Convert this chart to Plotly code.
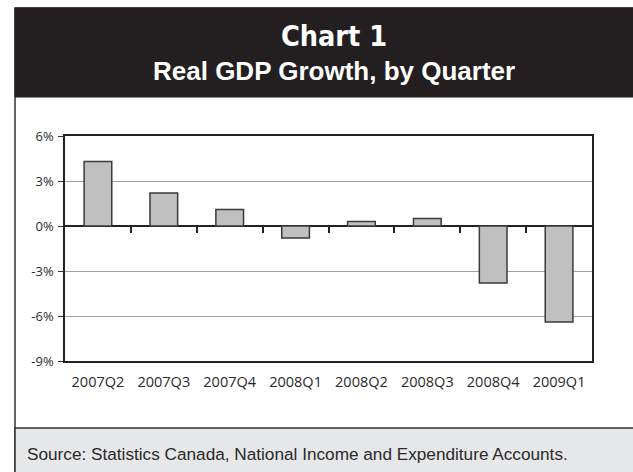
import plotly.graph_objects as go

# Quarterly real GDP growth (annualized, %)
quarters = ["2007Q2", "2007Q3", "2007Q4", "2008Q1", "2008Q2", "2008Q3", "2008Q4", "2009Q1"]
growth = [4.3, 2.2, 1.1, -0.8, 0.3, 0.5, -3.8, -6.4]

y_ticks = [-9, -6, -3, 0, 3, 6]
y_tick_labels = ["-9%", "-6%", "-3%", "0%", "3%", "6%"]

W, H = 633, 472
L, R, T, B = 65, 592, 136, 361  # plot area in pixels
FRAME_LEFT, FRAME_TOP = 15, 8
BAND_BOTTOM, SOURCE_TOP = 97, 428
TITLE_CX = 334


def px(x):
    return (x - L) / (R - L)


def py(y):
    return (B - y) / (B - T)


TEXT = "#2a2a2a"

fig = go.Figure()
fig.add_trace(go.Bar(
    x=quarters, y=growth,
    marker=dict(color="#c0c0c0", line=dict(color="#3a3a3a", width=1.5)),
    width=0.42, hoverinfo="x+y",
))
# carrier for the category-boundary tick marks on the zero line
fig.add_trace(go.Scatter(
    x=[0, len(quarters) - 1], y=[0, 0], xaxis="x2", mode="markers",
    marker=dict(opacity=0), hoverinfo="skip", showlegend=False,
))

fig.update_layout(
    width=W, height=H,
    margin=dict(l=L, r=W - R, t=T, b=H - B),
    paper_bgcolor="white", plot_bgcolor="white",
    showlegend=False,
    xaxis=dict(
        showline=True, mirror=True, linecolor="#222", linewidth=1.5,
        ticks="", showgrid=False,
        tickfont=dict(family="Open Sans", size=14.5, color=TEXT),
        ticklabelstandoff=7,
    ),
    xaxis2=dict(
        overlaying="x", anchor="free",
        position=(0 - y_ticks[0]) / (y_ticks[-1] - y_ticks[0]),
        range=[-0.5, len(quarters) - 0.5],
        tickvals=[i + 0.5 for i in range(len(quarters) - 1)],
        ticks="outside", ticklen=6, tickwidth=1.5, tickcolor="#222",
        showticklabels=False, showgrid=False, showline=False, zeroline=False,
    ),
    yaxis=dict(
        range=[y_ticks[0], y_ticks[-1]],
        tickvals=y_ticks, ticktext=y_tick_labels,
        showline=True, mirror=True, linecolor="#222", linewidth=1.5,
        ticks="outside", ticklen=5, tickcolor="#333", tickwidth=1,
        showgrid=True, gridcolor="#a0a0a0", gridwidth=1.2,
        zeroline=True, zerolinecolor="#222", zerolinewidth=1.5,
        tickfont=dict(family="Open Sans", size=13, color=TEXT),
        ticklabelstandoff=2,
    ),
    bargap=0.58,
)

shapes = [
    # outer frame
    dict(type="rect", xref="paper", yref="paper",
         x0=px(FRAME_LEFT), x1=px(W + 30), y0=py(H + 5), y1=py(FRAME_TOP),
         line=dict(color="#333", width=1.5), fillcolor="rgba(0,0,0,0)", layer="below"),
    # title band
    dict(type="rect", xref="paper", yref="paper",
         x0=px(FRAME_LEFT), x1=px(W + 30), y0=py(BAND_BOTTOM), y1=py(FRAME_TOP),
         line=dict(color="#231f20", width=1), fillcolor="#231f20", layer="below"),
    # source band
    dict(type="rect", xref="paper", yref="paper",
         x0=px(FRAME_LEFT), x1=px(W + 30), y0=py(H + 5), y1=py(SOURCE_TOP),
         line=dict(color="#333", width=1.5), fillcolor="#e6e7e8", layer="below"),
]
fig.update_layout(shapes=shapes)

fig.add_annotation(
    text="<b>Chart 1</b>", x=px(TITLE_CX), y=py(36), xref="paper", yref="paper",
    showarrow=False, xanchor="center", yanchor="middle",
    font=dict(family="DejaVu Sans Condensed", size=28.5, color="white"),
)
fig.add_annotation(
    text="<b>Real GDP Growth, by Quarter</b>", x=px(TITLE_CX), y=py(71), xref="paper", yref="paper",
    showarrow=False, xanchor="center", yanchor="middle",
    font=dict(family="Liberation Sans", size=26, color="white"),
)
fig.add_annotation(
    text="Source: Statistics Canada, National Income and Expenditure Accounts.",
    x=px(25), y=py(454), xref="paper", yref="paper",
    showarrow=False, xanchor="left", yanchor="middle",
    font=dict(family="Liberation Sans", size=17.2, color=TEXT),
)

fig.write_html("out.html")
